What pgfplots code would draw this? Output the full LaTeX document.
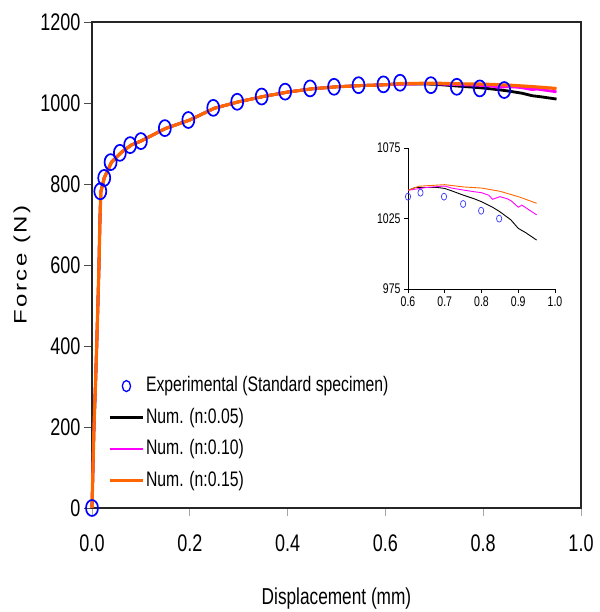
\documentclass[border=0pt]{standalone}
\usepackage{graphicx}
\usepackage{pgfplots}
\pgfplotsset{compat=1.18}
\usepackage{pgfplotstable}
\usepackage{fontspec}
\setmainfont{Liberation Sans}[FakeStretch=0.75]
\newfontfamily\ylabfont{Liberation Sans}[LetterSpace=11]
\definecolor{numorange}{RGB}{255,102,0}
\definecolor{nummag}{RGB}{255,0,255}
\definecolor{expblue}{RGB}{0,0,255}

\pgfplotstableread{
x y
0 0
0.017 782
0.025 815
0.038 854
0.057 877
0.078 896
0.100 906
0.149 938
0.197 958
0.248 988
0.297 1003
0.347 1016
0.395 1028
0.446 1036
0.495 1040
0.545 1044
0.596 1046
0.630 1050
0.693 1044
0.746 1040
0.793 1036
0.843 1032
}\expmain

\pgfplotstableread{
x y
0.600 1040.5
0.634 1043.3
0.698 1040.5
0.750 1035.3
0.799 1030.5
0.848 1024.9
}\expinset

\pgfplotstableread{
x y
0 0
0.002 100
0.004 200
0.007 300
0.0096 400
0.012 500
0.0143 600
0.016 700
0.018 780
0.025 815
0.04 854
0.06 878
0.08 896
0.1 906
0.15 937
0.2 958
0.25 987
0.3 1003
0.35 1016
0.4 1027
0.45 1035
0.5 1040
0.55 1043
0.6 1045
0.62 1047
0.65 1047
0.68 1047
0.70 1046.3
0.72 1044.5
0.75 1041.6
0.78 1039
0.80 1036.9
0.83 1033
0.85 1029.8
0.88 1024
0.90 1018
0.92 1015
0.95 1009.7
}\numA

\pgfplotstableread{
x y
0 0
0.002 100
0.004 200
0.007 300
0.0096 400
0.012 500
0.0143 600
0.016 700
0.018 780
0.025 815
0.04 854
0.06 878
0.08 896
0.1 906
0.15 937
0.2 958
0.25 987
0.3 1003
0.35 1016
0.4 1027
0.45 1035
0.5 1040
0.55 1043
0.6 1045
0.65 1047
0.70 1048
0.72 1046.5
0.75 1045.2
0.78 1044
0.80 1043.3
0.82 1041.5
0.83 1038.6
0.85 1040.5
0.87 1039
0.88 1037.7
0.90 1033
0.91 1034.5
0.93 1031
0.95 1027.6
}\numB

\pgfplotstableread{
x y
0 0
0.002 100
0.004 200
0.007 300
0.0096 400
0.012 500
0.0143 600
0.016 700
0.018 780
0.025 815
0.04 854
0.06 878
0.08 896
0.1 906
0.15 937
0.2 958
0.25 987
0.3 1003
0.35 1016
0.4 1027
0.45 1035
0.5 1040
0.55 1043
0.6 1045
0.63 1047.9
0.70 1049
0.75 1047.4
0.80 1046.6
0.85 1044.3
0.90 1040.5
0.95 1035.8
}\numC

\begin{document}
\begin{tikzpicture}
\path[use as bounding box] (-92bp,-104bp) rectangle (508bp,508bp);
\begin{axis}[
  at={(0,0)}, anchor=south west,
  width=489bp, height=486bp, scale only axis,
  xmin=0, xmax=1, ymin=0, ymax=1200,
  xtick={0,0.2,0.4,0.6,0.8,1.0},
  ytick={0,200,400,600,800,1000,1200},
  xtick pos=bottom, ytick pos=left,
  tick align=outside, major tick length=8bp,
  axis line style={line width=1.6bp, black!85},
  xtick style={line width=0.8bp, black!35},
  ytick style={line width=0.8bp, black!70},
  /pgf/number format/assume math mode=true,
  xticklabel style={/pgf/number format/fixed, /pgf/number format/fixed zerofill, /pgf/number format/precision=1, yshift=-15bp},
  yticklabel style={/pgf/number format/1000 sep={}},
  ticklabel style={font=\fontsize{24bp}{28bp}\selectfont},
  xlabel={Displacement (mm)},
  xlabel style={font=\fontsize{23bp}{27bp}\selectfont, at={(axis description cs:0.5,-0.186)}, anchor=center},
  ylabel={\scalebox{1}[0.75]{\ylabfont Force (N)}},
  ylabel style={font=\fontsize{24bp}{28bp}\selectfont, at={(axis description cs:-0.143,0.5)}, anchor=center},
  clip=false,
  legend style={at={(axis description cs:0.033,0.276)}, anchor=north west, draw=none, fill=none,
    font=\fontsize{21bp}{25bp}\selectfont, row sep=7.5bp, inner sep=0pt,
    nodes={inner sep=1.5bp, text height=16bp, text depth=5bp}},
  legend cell align=left,
  legend image code/.code={\draw[mark repeat=2,mark phase=2,#1] plot coordinates {(0bp,0bp) (16.5bp,0bp) (33bp,0bp)};},
]
\addlegendimage{only marks, mark=o, mark size=5.5bp, mark options={xscale=0.75, line width=1.3bp, draw=expblue, fill=white}}
\addlegendentry{Experimental (Standard specimen)}
\addplot[black, line width=2.8bp, no marks] table {\numA};
\addlegendentry{Num. (n:0.05)}
\addplot[nummag, line width=2.8bp, no marks] table {\numB};
\addlegendentry{Num. (n:0.10)}
\addplot[numorange, line width=3.2bp, no marks] table {\numC};
\addlegendentry{Num. (n:0.15)}
\addplot[only marks, mark=o, mark size=8bp, mark options={xscale=0.75, line width=1.7bp, draw=expblue, fill=white}, forget plot] table {\expmain};
\end{axis}
\begin{axis}[
  at={(316bp,219bp)}, anchor=south west,
  width=147bp, height=141bp, scale only axis,
  xmin=0.6, xmax=1.0, ymin=975, ymax=1075,
  xtick={0.6,0.7,0.8,0.9,1.0},
  ytick={975,1025,1075},
  axis x line=bottom, axis y line=left,
  axis line style={-, line width=0.8bp, black},
  tick align=outside, major tick length=4bp,
  tick style={line width=0.8bp, black},
  /pgf/number format/assume math mode=true,
  xticklabel style={/pgf/number format/fixed, /pgf/number format/fixed zerofill, /pgf/number format/precision=1},
  yticklabel style={/pgf/number format/1000 sep={}},
  ticklabel style={font=\fontsize{14bp}{17bp}\selectfont},
]
\addplot[black, line width=0.9bp, no marks, restrict x to domain=0.6:1] table {\numA};
\addplot[nummag, line width=0.9bp, no marks, restrict x to domain=0.6:1] table {\numB};
\addplot[numorange, line width=0.9bp, no marks, restrict x to domain=0.6:1] table {\numC};
\addplot[only marks, mark=o, mark size=3.5bp, mark options={xscale=0.75, line width=0.7bp, draw=expblue!80}] table {\expinset};
\end{axis}
\end{tikzpicture}
\end{document}
